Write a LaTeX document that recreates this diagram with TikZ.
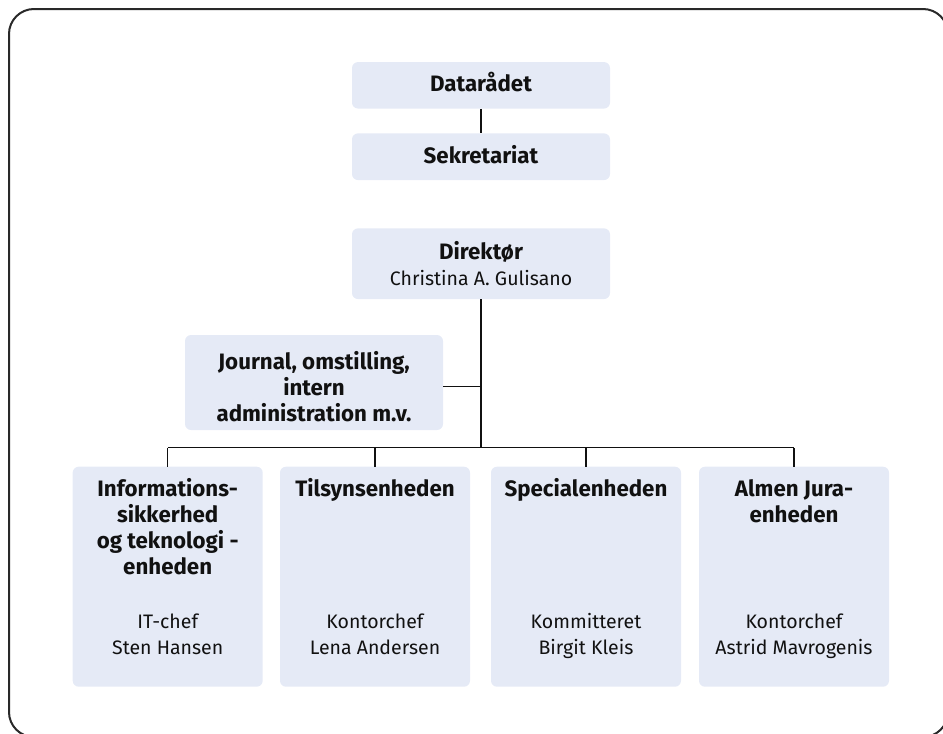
\documentclass[tikz,border=0pt]{standalone}
\usepackage{fontspec}
\setmainfont{Fira Sans}
\usetikzlibrary{calc}
\definecolor{boxfill}{RGB}{229,234,246}
\definecolor{ink}{RGB}{17,17,17}
\newcommand{\ttl}{\fontsize{22.3}{26}\selectfont\bfseries}
\newcommand{\sub}{\fontsize{19.5}{26}\selectfont}
\tikzset{
  box/.style={fill=boxfill, rounded corners=6pt, inner sep=0pt, draw=none},
  txt/.style={inner sep=0pt, text=ink, anchor=base},
  conn/.style={draw=ink, line width=1.3pt},
  frame/.style={draw=ink!90, line width=2pt, rounded corners=25pt}
}
\begin{document}
\begin{tikzpicture}[x=1pt,y=-1pt]
\useasboundingbox (0,0) rectangle (943,734);
\draw[frame] (9,9) rectangle (948,737);
% boxes
\node[box, minimum width=258pt, minimum height=46.5pt] (dat) at (481,85.3) {};
\node[box, minimum width=258pt, minimum height=46.7pt] (sek) at (481,156.7) {};
\node[box, minimum width=258pt, minimum height=70.7pt] (dir) at (481,263.7) {};
\node[box, minimum width=258pt, minimum height=95pt] (jour) at (314,382.5) {};
\node[box, minimum width=190pt, minimum height=220pt] (b1) at (167.7,576.7) {};
\node[box, minimum width=190pt, minimum height=220pt] (b2) at (375,576.7) {};
\node[box, minimum width=190pt, minimum height=220pt] (b3) at (586,576.7) {};
\node[box, minimum width=190pt, minimum height=220pt] (b4) at (794,576.7) {};
% texts
\node[txt] (datT) at ($(dat.north)+(0,30)$) {\ttl Datarådet};
\node[txt] (sekT) at ($(sek.north)+(0,30)$) {\ttl Sekretariat};
\node[txt] (dirT) at ($(dir.north)+(0,31)$) {\sub\begin{tabular}[t]{@{}c@{}}{\ttl Direktør}\\ Christina A. Gulisano\end{tabular}};
\node[txt] (jourT) at ($(jour.north)+(0,34.3)$) {\ttl\begin{tabular}[t]{@{}c@{}}Journal, omstilling,\\ intern\\ administration m.v.\end{tabular}};
\node[txt] (b1T) at ($(b1.north)+(0,30.3)$) {\ttl\begin{tabular}[t]{@{}c@{}}Informations-\\ sikkerhed\\ og teknologi -\\ enheden\end{tabular}};
\node[txt] (b2T) at ($(b2.north)+(0,30.3)$) {\ttl\begin{tabular}[t]{@{}c@{}}Tilsynsenheden\end{tabular}};
\node[txt] (b3T) at ($(b3.north)+(0,30.3)$) {\ttl\begin{tabular}[t]{@{}c@{}}Specialenheden\end{tabular}};
\node[txt] (b4T) at ($(b4.north)+(0,30.3)$) {\ttl\begin{tabular}[t]{@{}c@{}}Almen Jura-\\ enheden\end{tabular}};
\node[txt] (b1P) at ($(b1.south)+(0,-32.7)$) {\sub\begin{tabular}[b]{@{}c@{}}IT-chef\\ Sten Hansen\end{tabular}};
\node[txt] (b2P) at ($(b2.south)+(0,-32.7)$) {\sub\begin{tabular}[b]{@{}c@{}}Kontorchef\\ Lena Andersen\end{tabular}};
\node[txt] (b3P) at ($(b3.south)+(0,-32.7)$) {\sub\begin{tabular}[b]{@{}c@{}}Kommitteret\\ Birgit Kleis\end{tabular}};
\node[txt] (b4P) at ($(b4.south)+(0,-32.7)$) {\sub\begin{tabular}[b]{@{}c@{}}Kontorchef\\ Astrid Mavrogenis\end{tabular}};
% connectors
\coordinate (bus) at ($(dir.south)+(0,148.5)$);
\draw[conn] (dat.south) -- (sek.north);
\draw[conn] (dir.south) -- (bus);
\draw[conn] ([yshift=-4pt]jour.east) -- ([yshift=-4pt]jour.east -| dir.south);
\draw[conn] (b1.north |- bus) -- (b4.north |- bus);
\draw[conn] (b1.north |- bus) -- (b1.north);
\draw[conn] (b2.north |- bus) -- (b2.north);
\draw[conn] (b3.north |- bus) -- (b3.north);
\draw[conn] (b4.north |- bus) -- (b4.north);
\end{tikzpicture}
\end{document}
